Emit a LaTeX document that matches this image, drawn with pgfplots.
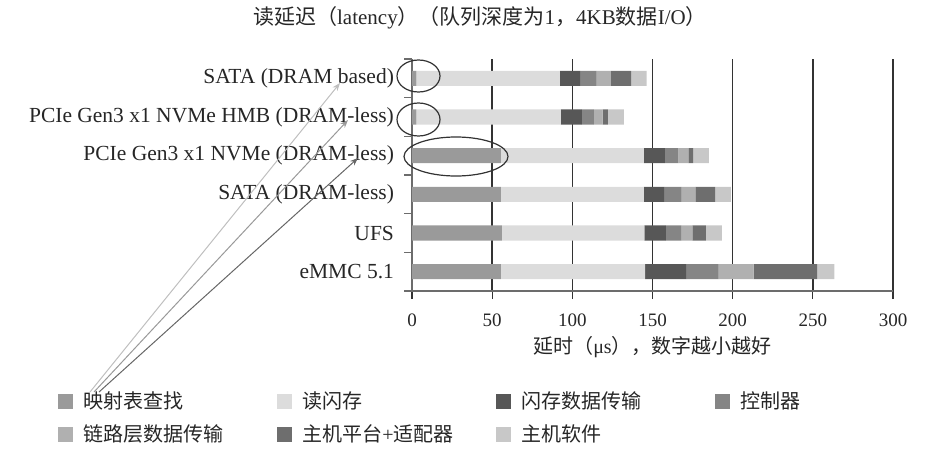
\documentclass[border=0pt]{standalone}
\usepackage{pgfplots}
\pgfplotsset{compat=1.18}
\usepackage{pgfplotstable}
\usepackage{fontspec}
\setmainfont{Liberation Serif}
\newfontfamily\cjk{Noto Sans CJK SC}
\usetikzlibrary{arrows.meta}

\definecolor{cmap}{HTML}{9A9A9A}
\definecolor{cread}{HTML}{DCDCDC}
\definecolor{cxfer}{HTML}{575757}
\definecolor{cctrl}{HTML}{858585}
\definecolor{clink}{HTML}{B0B0B0}
\definecolor{chost}{HTML}{6E6E6E}
\definecolor{csw}{HTML}{C8C8C8}

\newcommand{\lentry}[1]{\makebox[98pt][l]{\hspace{3pt}#1}}

\pgfplotstableread{
y map read xfer ctrl link host sw
0 55.4 90.0 25.6 20.2 21.8 39.6 10.8
1 56.0 89.0 13.3 9.6 7.0 8.4 9.9
2 55.4 89.2 12.7 10.8 8.7 12.3 9.8
3 55.4 89.2 13.1 8.5 6.1 3.1 9.8
4 2.7 90.1 13.1 7.6 5.4 3.3 10.0
5 2.7 89.6 12.5 10.4 8.9 12.5 9.8
}\datatable

\begin{document}
\begin{tikzpicture}
\path[use as bounding box] (0,0) rectangle (470.5pt,225.5pt);
\begin{axis}[
  at={(206pt,80pt)}, anchor=south west,
  scale only axis, width=240.5pt, height=116pt,
  xbar stacked, bar width=0.39,
  xmin=0, xmax=300, ymin=-0.5, ymax=5.5,
  axis x line=bottom, axis y line=left,
  axis line style={-, draw=gray!85!black, line width=0.6pt},
  xtick={0,50,...,300},
  xmajorgrids, major grid style={draw=black!80, line width=0.75pt},
  tick align=outside, major tick length=3.5pt,
  xtick style={draw=black!80, line width=0.6pt},
  ytick={-0.5,0.5,...,5.5}, yticklabels={},
  ytick style={draw=gray!85!black, line width=0.6pt},
  major tick length=4pt,
  extra y ticks={0,1,2,3,4,5},
  extra y tick labels={eMMC 5.1,UFS,SATA (DRAM-less),PCIe Gen3 x1 NVMe (DRAM-less),PCIe Gen3 x1 NVMe HMB (DRAM-less),SATA (DRAM based)},
  extra y tick style={major tick length=0pt, yticklabel style={font=\fontsize{10.75}{12}\selectfont, text=black!85, xshift=-5.5pt}},
  xticklabel style={font=\fontsize{9.5}{11}\selectfont, text=black!85, yshift=-4pt},
  /pgf/number format/assume math mode=true,
  xlabel={{\cjk 延时（}μs{\cjk ），数字越小越好}},
  xlabel style={font=\fontsize{10}{12}\selectfont, text=black!85, yshift=2pt},
  legend columns=4,
  legend style={at={(-0.736,-0.415)}, anchor=north west, draw=none, fill=none,
    font=\fontsize{10}{12}\selectfont, text=black!85, row sep=2.5pt, inner sep=0pt},
  legend cell align=left,
  legend image code/.code={\fill[#1] (0pt,-3.75pt) rectangle (7.5pt,3.75pt);},
  clip=false,
]
\addplot[fill=cmap, draw=none] table[x=map, y=y] \datatable;
\addplot[fill=cread, draw=none] table[x=read, y=y] \datatable;
\addplot[fill=cxfer, draw=none] table[x=xfer, y=y] \datatable;
\addplot[fill=cctrl, draw=none] table[x=ctrl, y=y] \datatable;
\addplot[fill=clink, draw=none] table[x=link, y=y] \datatable;
\addplot[fill=chost, draw=none] table[x=host, y=y] \datatable;
\addplot[fill=csw, draw=none] table[x=sw, y=y] \datatable;
\legend{\lentry{\cjk 映射表查找},\lentry{\cjk 读闪存},\lentry{\cjk 闪存数据传输},\lentry{\cjk 控制器},\lentry{\cjk 链路层数据传输},\lentry{{\cjk 主机平台}+{\cjk 适配器}},\lentry{\cjk 主机软件}}
\end{axis}
\begin{scope}[x=0.5pt,y=0.5pt]
\node[font=\fontsize{10.5}{12}\selectfont, text=black!85] at (480,433) {{\cjk 读延迟（}latency{\cjk ）（队列深度为}1{\cjk ，}4KB{\cjk 数据}I/O{\cjk ）}};
\draw[black!80, line width=0.6pt] (418.5,375) ellipse [x radius=21.5, y radius=16];
\draw[black!80, line width=0.6pt] (418.5,331.5) ellipse [x radius=21.5, y radius=16.5];
\draw[black!80, line width=0.6pt] (456,294.5) ellipse [x radius=52, y radius=19.5];
\draw[black!25, line width=0.5pt, -{Stealth[length=4pt,width=3pt]}] (90,59) -- (340,368);
\draw[black!40, line width=0.5pt, -{Stealth[length=4pt,width=3pt]}] (94,59) -- (348,331);
\draw[black!60, line width=0.5pt, -{Stealth[length=4pt,width=3pt]}] (99,59) -- (358,293);
\end{scope}
\end{tikzpicture}
\end{document}
